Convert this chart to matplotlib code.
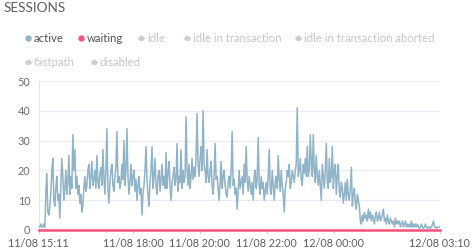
import numpy as np
import pandas as pd
import matplotlib
matplotlib.use("Agg")
import matplotlib.pyplot as plt
import matplotlib.dates as mdates

# sessions in state "active" (evenly spaced samples)
active = [1, 1, 2, 1, 1, 2, 1, 12, 19, 6,
          5, 8, 12, 20, 24, 10, 8, 14, 18, 10,
          12, 4, 15, 24, 18, 10, 14, 20, 12, 16,
          25, 12, 18, 14, 32, 20, 27, 14, 18, 12,
          15, 9, 12, 6, 8, 14, 18, 13, 15, 20,
          22, 14, 18, 23, 15, 17, 20, 14, 25, 16,
          14, 19, 21, 15, 27, 18, 12, 20, 34, 14,
          9, 16, 20, 22, 15, 13, 18, 21, 33, 16,
          18, 14, 16, 22, 17, 30, 15, 20, 34, 18,
          12, 16, 22, 15, 18, 20, 13, 17, 10, 15,
          18, 12, 14, 5, 12, 15, 20, 28, 17, 12,
          8, 16, 20, 28, 14, 18, 24, 15, 12, 18,
          20, 13, 17, 22, 15, 18, 14, 26, 14, 19,
          23, 15, 10, 16, 18, 21, 15, 17, 29, 13,
          18, 16, 27, 14, 20, 16, 18, 38, 20, 15,
          22, 14, 18, 24, 17, 21, 18, 25, 39, 22,
          18, 24, 28, 20, 40, 22, 20, 16, 27, 18,
          16, 20, 23, 15, 12, 18, 29, 17, 18, 14,
          10, 16, 23, 14, 18, 20, 15, 12, 11, 16,
          18, 14, 20, 33, 15, 17, 12, 14, 7, 13,
          20, 14, 16, 18, 12, 22, 16, 28, 17, 13,
          18, 15, 12, 16, 10, 18, 20, 14, 17, 31,
          15, 12, 18, 14, 16, 10, 13, 16, 12, 18,
          27, 14, 12, 20, 15, 10, 16, 18, 14, 25,
          17, 13, 20, 15, 12, 6, 14, 16, 20, 18,
          22, 14, 16, 20, 18, 16, 20, 22, 41, 18,
          20, 24, 17, 15, 22, 19, 24, 18, 28, 18,
          20, 32, 22, 18, 32, 20, 16, 25, 18, 15,
          20, 15, 10, 22, 18, 14, 20, 29, 16, 14,
          24, 16, 18, 28, 14, 20, 22, 12, 18, 22,
          13, 11, 16, 14, 9, 12, 16, 10, 17, 12,
          10, 14, 21, 8, 12, 14, 9, 7, 12, 10,
          8, 3, 2, 5, 3, 6, 4, 5, 3, 7,
          4, 6, 3, 5, 4, 2, 5, 6, 3, 4,
          6, 3, 4, 5, 7, 3, 4, 2, 5, 3,
          2, 4, 3, 2, 3, 1, 4, 2, 3, 2,
          3, 1, 2, 3, 1, 2, 3, 1, 2, 1,
          2, 1, 3, 1, 2, 1, 2, 1, 2, 1,
          0.5, 1, 2, 1, 0.5, 1, 2, 1, 0.5, 1,
          1, 0.5, 1, 2, 3, 1, 1, 0.5, 1, 1,
          1]
waiting = [0] * len(active)

t_start = pd.Timestamp("2021-08-11 15:11")
t_end = pd.Timestamp("2021-08-12 03:10")
times = pd.date_range(t_start, t_end, periods=len(active))

tick_times = [pd.Timestamp(s) for s in ["2021-08-11 15:11", "2021-08-11 18:00",
                                        "2021-08-11 20:00", "2021-08-11 22:00",
                                        "2021-08-12 00:00", "2021-08-12 03:10"]]
yticks = [0, 10, 20, 30, 40, 50]

legend_items = ["active", "waiting", "idle", "idle in transaction",
                "idle in transaction aborted", "fastpath", "disabled"]

plt.rcParams['font.family'] = ['Lato', 'DejaVu Sans']

W, H = 475, 252
fig = plt.figure(figsize=(W / 100, H / 100), dpi=100)
ax = fig.add_axes([38.8 / W, 22 / H, (439.5 - 38.8) / W, (230 - 81) / H])

ax.plot(times, active, color="#8fb3c7", lw=1.1, zorder=3)
ax.plot(times, waiting, color="#f4517d", lw=1.8, zorder=4, clip_on=False)

ax.set_xlim(t_start, t_end)
ax.set_ylim(0, 50)
ax.set_yticks(yticks)
ax.set_xticks(tick_times)
ax.xaxis.set_major_formatter(mdates.DateFormatter("%d/%m %H:%M"))
ax.grid(axis="y", color="#ebe9f4", lw=0.9)
ax.set_axisbelow(True)
for s in ["top", "right", "bottom"]:
    ax.spines[s].set_visible(False)
ax.spines["left"].set_color("#e6e4ef")
ax.tick_params(axis="y", length=0, pad=6, labelsize=7.8, labelcolor="#6f6f6f")
ax.tick_params(axis="x", length=3, color="#d8d8d8", pad=3, labelsize=7.8, labelcolor="#5f5f5f")

# title and legend drawn in pixel coordinates
ov = fig.add_axes([0, 0, 1, 1])
ov.set_xlim(0, W)
ov.set_ylim(H, 0)
ov.axis("off")
ov.text(4, 8, "SESSIONS", fontsize=9.8, color="#5f5f5f", va="center", ha="left")

pos = [(28, 38), (81, 38), (141, 38), (187, 38), (298, 38), (28, 62), (94, 62)]
for i, (name, (x, y)) in enumerate(zip(legend_items, pos)):
    if i == 0:
        ov.plot([x], [y], "o", ms=3.5, color="#8fb3c7")
        tc = "#555555"
    elif i == 1:
        ov.plot([x], [y], "o", ms=3.5, color="#f4517d")
        tc = "#555555"
    else:
        ov.plot([x - 3, x + 3], [y, y], color="#cfcfcf", lw=1)
        ov.plot([x], [y], "o", ms=3, color="#cfcfcf")
        tc = "#c8c8c8"
    ov.text(x + 6, y, name, fontsize=8.2, color=tc, va="center", ha="left")

fig.savefig("out.png", dpi=100)
